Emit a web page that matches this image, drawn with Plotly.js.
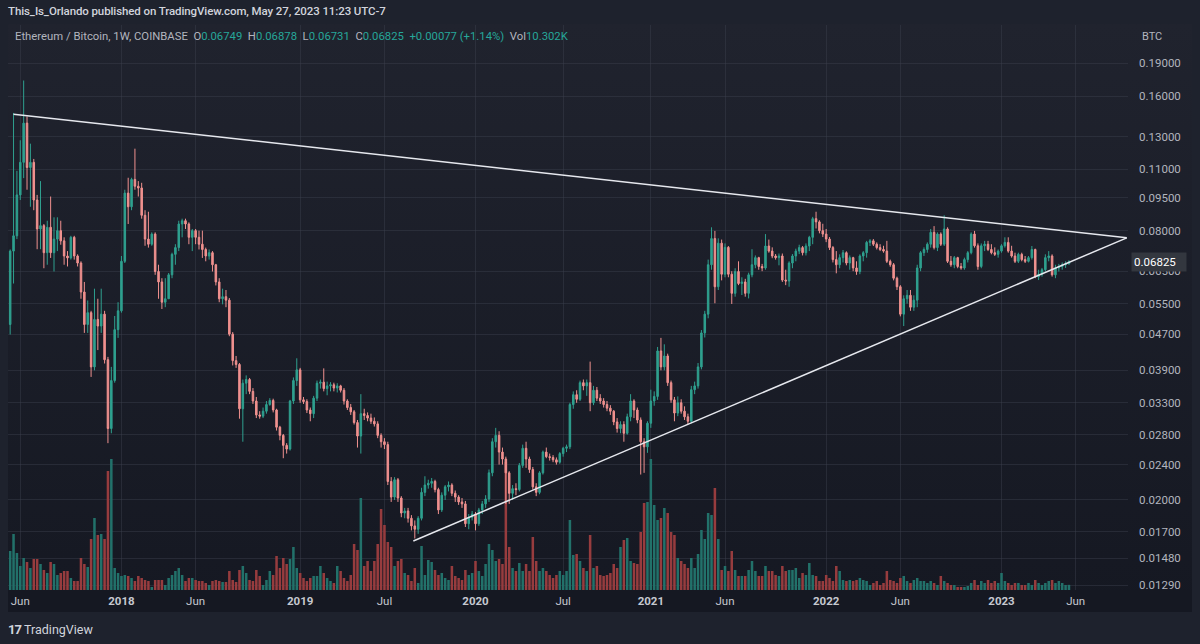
<!DOCTYPE html>
<html><head><meta charset="utf-8">
<script src="https://cdn.plot.ly/plotly-3.0.1.min.js"></script>
<style>
html,body{margin:0;padding:0;background:#1e222d;width:1200px;height:644px;overflow:hidden;font-family:Roboto,"Noto Sans",sans-serif;}
#pane{position:absolute;left:8px;top:24px;width:1184px;height:588px;background:linear-gradient(#20232e,#151822);}
#axisband{position:absolute;left:8px;top:590px;width:1184px;height:22px;background:#151822;}
#chart{position:absolute;left:0;top:0;width:1200px;height:644px;}
.t{position:absolute;white-space:nowrap;}
.v{color:#26a69a;}
</style></head><body>
<div id="pane"></div>
<div id="axisband"></div>
<div id="chart"></div>
<div class="t" style="left:8px;top:4px;font-size:11.5px;color:#d1d4dc;font-weight:500;letter-spacing:-0.1px;">This_Is_Orlando published on TradingView.com, May 27, 2023 11:23 UTC-7</div>
<div class="t" style="left:15px;top:30px;font-size:11.3px;color:#b2b5be;">Ethereum / Bitcoin, 1W, COINBASE&nbsp; O<span class="v">0.06749</span>&nbsp; H<span class="v">0.06878</span>&nbsp; L<span class="v">0.06731</span>&nbsp; C<span class="v">0.06825</span>&nbsp; <span class="v">+0.00077 (+1.14%)</span>&nbsp; Vol<span class="v">10.302K</span></div>
<div class="t" style="left:1142px;top:30px;font-size:11px;color:#b2b5be;">BTC</div>
<div class="t" style="left:8px;top:622px;font-size:12.5px;color:#d1d4dc;"><b style="font-size:13px;letter-spacing:-1px;">17</b>&nbsp;TradingView</div>
<script>
// weekly bars, first week starting 2017-05-15
const firstWeek = '2017-05-15';
const open = [.0494,.0721,.0780,.0963,.1139,.1394,.1109,.1139,.0938,.0808,
.0822,.0715,.0815,.0715,.0767,.0801,.0760,.0703,.0696,.0774,
.0703,.0678,.0584,.0494,.0525,.0397,.0507,.0490,.0521,.0412,
.0289,.0370,.0481,.0530,.0684,.0972,.0906,.1043,.1007,.0998,
.0867,.0767,.0747,.0787,.0649,.0615,.0554,.0564,.0638,.0709,
.0734,.0829,.0843,.0829,.0774,.0801,.0774,.0747,.0727,.0703,
.0715,.0672,.0615,.0564,.0570,.0560,.0470,.0410,.0402,.0320,
.0365,.0372,.0350,.0333,.0310,.0308,.0316,.0327,.0334,.0318,
.0291,.0279,.0265,.0260,.0333,.0370,.0391,.0335,.0332,.0318,
.0312,.0338,.0365,.0367,.0355,.0360,.0362,.0356,.0360,.0352,
.0333,.0322,.0315,.0298,.0278,.0312,.0309,.0305,.0300,.0296,
.0279,.0270,.0266,.0220,.0203,.0222,.0202,.0187,.0189,.0182,
.0175,.0172,.0182,.0208,.0216,.0218,.0220,.0211,.0190,.0205,
.0214,.0216,.0207,.0203,.0198,.0196,.0177,.0183,.0186,.0177,
.0190,.0196,.0201,.0230,.0270,.0279,.0256,.0247,.0230,.0207,
.0212,.0211,.0239,.0261,.0247,.0234,.0214,.0208,.0230,.0256,
.0250,.0249,.0246,.0243,.0254,.0261,.0263,.0327,.0344,.0336,
.0366,.0360,.0366,.0330,.0352,.0338,.0333,.0327,.0321,.0316,
.0299,.0289,.0295,.0282,.0307,.0333,.0318,.0302,.0270,.0263,
.0297,.0333,.0341,.0431,.0397,.0420,.0366,.0335,.0313,.0330,
.0316,.0307,.0300,.0353,.0360,.0397,.0473,.0521,.0672,.0769,
.0600,.0751,.0640,.0735,.0640,.0580,.0649,.0610,.0615,.0580,
.0638,.0672,.0697,.0666,.0661,.0740,.0721,.0703,.0697,.0703,
.0621,.0618,.0678,.0703,.0721,.0734,.0715,.0740,.0774,.0852,
.0838,.0801,.0787,.0767,.0734,.0690,.0672,.0697,.0715,.0678,
.0697,.0661,.0649,.0703,.0715,.0754,.0760,.0747,.0734,.0727,
.0721,.0684,.0672,.0627,.0600,.0521,.0564,.0574,.0540,.0560,
.0661,.0715,.0727,.0747,.0794,.0734,.0787,.0747,.0808,.0684,
.0672,.0697,.0666,.0661,.0690,.0715,.0787,.0741,.0666,.0741,
.0747,.0727,.0715,.0709,.0721,.0741,.0754,.0721,.0703,.0684,
.0709,.0690,.0684,.0697,.0727,.0632,.0640,.0655,.0697,.0703,
.0638,.0661,.0666,.0672,.06749];
const high = [.0727,.1469,.1090,.1276,.1736,.1443,.1254,.1159,.0963,.1034,
.0829,.0843,.0955,.0858,.0858,.0843,.0774,.0721,.0780,.0780,
.0709,.0684,.0615,.0559,.0530,.0594,.0564,.0594,.0530,.0418,
.0397,.0516,.0554,.0703,.0989,.1052,.1052,.1222,.1034,.1025,
.0890,.0883,.0794,.0794,.0672,.0627,.0627,.0644,.0715,.0747,
.0843,.0852,.0852,.0836,.0808,.0808,.0801,.0801,.0734,.0727,
.0721,.0675,.0627,.0594,.0590,.0566,.0475,.0420,.0405,.0372,
.0380,.0375,.0356,.0340,.0316,.0322,.0333,.0338,.0337,.0320,
.0293,.0281,.0268,.0335,.0376,.0415,.0395,.0340,.0336,.0322,
.0342,.0370,.0372,.0394,.0368,.0367,.0366,.0365,.0362,.0356,
.0336,.0328,.0318,.0302,.0345,.0320,.0314,.0312,.0306,.0300,
.0282,.0275,.0270,.0225,.0225,.0224,.0204,.0192,.0192,.0185,
.0180,.0184,.0213,.0226,.0222,.0224,.0222,.0213,.0208,.0216,
.0220,.0218,.0210,.0205,.0202,.0199,.0186,.0189,.0188,.0192,
.0199,.0205,.0234,.0275,.0290,.0285,.0262,.0250,.0232,.0216,
.0218,.0242,.0266,.0270,.0250,.0237,.0218,.0232,.0258,.0262,
.0254,.0252,.0249,.0256,.0263,.0266,.0330,.0350,.0352,.0370,
.0372,.0372,.0408,.0360,.0358,.0345,.0338,.0333,.0326,.0318,
.0305,.0300,.0300,.0312,.0345,.0336,.0322,.0306,.0275,.0300,
.0353,.0350,.0440,.0461,.0446,.0425,.0370,.0340,.0341,.0336,
.0324,.0312,.0360,.0368,.0405,.0480,.0530,.0690,.0815,.0800,
.0770,.0765,.0750,.0740,.0650,.0660,.0684,.0630,.0625,.0645,
.0728,.0705,.0700,.0675,.0787,.0765,.0735,.0710,.0712,.0712,
.0655,.0684,.0710,.0730,.0745,.0740,.0750,.0780,.0860,.0883,
.0845,.0830,.0808,.0775,.0740,.0721,.0709,.0725,.0720,.0705,
.0700,.0684,.0709,.0721,.0760,.0767,.0767,.0754,.0747,.0741,
.0760,.0690,.0678,.0632,.0605,.0574,.0590,.0590,.0574,.0672,
.0721,.0735,.0754,.0808,.0820,.0794,.0794,.0867,.0815,.0703,
.0703,.0700,.0678,.0697,.0721,.0794,.0800,.0750,.0750,.0760,
.0760,.0747,.0735,.0727,.0747,.0774,.0774,.0741,.0715,.0715,
.0715,.0703,.0703,.0740,.0730,.0655,.0661,.0709,.0721,.0709,
.0672,.0675,.0680,.0684,.06878];
const low = [.0469,.0610,.0767,.0938,.1050,.0989,.0906,.0890,.0728,.0728,
.0660,.0672,.0696,.0649,.0721,.0745,.0672,.0666,.0690,.0690,
.0666,.0564,.0473,.0473,.0377,.0390,.0433,.0473,.0404,.0268,
.0282,.0366,.0461,.0525,.0678,.0829,.0890,.0989,.0955,.0852,
.0741,.0734,.0741,.0638,.0564,.0535,.0540,.0564,.0627,.0672,
.0721,.0774,.0808,.0747,.0721,.0747,.0727,.0696,.0684,.0690,
.0649,.0604,.0554,.0548,.0540,.0465,.0400,.0395,.0304,.0270,
.0345,.0345,.0328,.0305,.0304,.0305,.0312,.0325,.0314,.0286,
.0272,.0248,.0254,.0258,.0328,.0360,.0330,.0328,.0313,.0300,
.0305,.0333,.0355,.0350,.0343,.0350,.0350,.0348,.0348,.0327,
.0318,.0310,.0295,.0262,.0254,.0302,.0300,.0296,.0292,.0275,
.0262,.0260,.0216,.0198,.0200,.0198,.0183,.0182,.0178,.0171,
.0164,.0168,.0180,.0204,.0212,.0213,.0208,.0186,.0188,.0200,
.0209,.0204,.0198,.0195,.0192,.0174,.0172,.0180,.0171,.0175,
.0186,.0192,.0198,.0226,.0262,.0240,.0240,.0196,.0196,.0200,
.0205,.0209,.0236,.0236,.0230,.0211,.0204,.0206,.0228,.0248,
.0245,.0243,.0240,.0241,.0250,.0256,.0260,.0320,.0330,.0333,
.0352,.0342,.0316,.0326,.0333,.0328,.0322,.0316,.0310,.0294,
.0283,.0282,.0270,.0280,.0300,.0305,.0297,.0228,.0230,.0255,
.0290,.0325,.0335,.0390,.0390,.0360,.0330,.0300,.0308,.0312,
.0302,.0295,.0297,.0345,.0355,.0392,.0462,.0510,.0655,.0551,
.0590,.0620,.0630,.0630,.0549,.0570,.0605,.0575,.0570,.0565,
.0630,.0660,.0655,.0650,.0655,.0715,.0695,.0690,.0670,.0615,
.0605,.0600,.0660,.0684,.0710,.0705,.0705,.0721,.0747,.0810,
.0790,.0775,.0755,.0725,.0680,.0643,.0660,.0680,.0670,.0655,
.0650,.0638,.0640,.0684,.0697,.0740,.0740,.0727,.0721,.0715,
.0678,.0665,.0620,.0590,.0515,.0490,.0550,.0530,.0530,.0540,
.0650,.0703,.0715,.0734,.0727,.0721,.0740,.0740,.0678,.0665,
.0660,.0660,.0655,.0655,.0680,.0709,.0734,.0655,.0660,.0721,
.0721,.0709,.0703,.0697,.0715,.0734,.0715,.0697,.0678,.0678,
.0684,.0678,.0680,.0690,.0627,.0621,.0632,.0649,.0684,.0632,
.0627,.0649,.0655,.0661,.06731];
const close = [.0721,.0780,.0963,.1139,.1394,.1109,.1139,.0938,.0808,.0822,
.0715,.0815,.0715,.0767,.0801,.0760,.0703,.0696,.0774,.0703,
.0678,.0584,.0494,.0525,.0397,.0507,.0490,.0521,.0412,.0289,
.0370,.0481,.0530,.0684,.0972,.0906,.1043,.1007,.0998,.0867,
.0767,.0747,.0787,.0649,.0615,.0554,.0564,.0638,.0709,.0734,
.0829,.0843,.0829,.0774,.0801,.0774,.0747,.0727,.0703,.0715,
.0672,.0615,.0564,.0570,.0560,.0470,.0410,.0402,.0320,.0365,
.0372,.0350,.0333,.0310,.0308,.0316,.0327,.0334,.0318,.0291,
.0279,.0265,.0260,.0333,.0370,.0391,.0335,.0332,.0318,.0312,
.0338,.0365,.0367,.0355,.0360,.0362,.0356,.0360,.0352,.0333,
.0322,.0315,.0298,.0278,.0312,.0309,.0305,.0300,.0296,.0279,
.0270,.0266,.0220,.0203,.0222,.0202,.0187,.0189,.0182,.0175,
.0172,.0182,.0208,.0216,.0218,.0220,.0211,.0190,.0205,.0214,
.0216,.0207,.0203,.0198,.0196,.0177,.0183,.0186,.0177,.0190,
.0196,.0201,.0230,.0270,.0279,.0256,.0247,.0230,.0207,.0212,
.0211,.0239,.0261,.0247,.0234,.0214,.0208,.0230,.0256,.0250,
.0249,.0246,.0243,.0254,.0261,.0263,.0327,.0344,.0336,.0366,
.0360,.0366,.0330,.0352,.0338,.0333,.0327,.0321,.0316,.0299,
.0289,.0295,.0282,.0307,.0333,.0318,.0302,.0270,.0263,.0297,
.0333,.0341,.0431,.0397,.0420,.0366,.0335,.0313,.0330,.0316,
.0307,.0300,.0353,.0360,.0397,.0473,.0521,.0672,.0769,.0600,
.0751,.0640,.0735,.0640,.0580,.0649,.0610,.0615,.0580,.0638,
.0672,.0697,.0666,.0661,.0740,.0721,.0703,.0697,.0703,.0621,
.0618,.0678,.0703,.0721,.0734,.0715,.0740,.0774,.0852,.0838,
.0801,.0787,.0767,.0734,.0690,.0672,.0697,.0715,.0678,.0697,
.0661,.0649,.0703,.0715,.0754,.0760,.0747,.0734,.0727,.0721,
.0684,.0672,.0627,.0600,.0521,.0564,.0574,.0540,.0560,.0661,
.0715,.0727,.0747,.0794,.0734,.0787,.0747,.0808,.0684,.0672,
.0697,.0666,.0661,.0690,.0715,.0787,.0741,.0666,.0741,.0747,
.0727,.0715,.0709,.0721,.0741,.0754,.0721,.0703,.0684,.0709,
.0690,.0684,.0697,.0727,.0632,.0640,.0655,.0697,.0703,.0638,
.0661,.0666,.0672,.06749,.06825];
// weekly volume, thousands of ETH
const volume = [78,112,74,48,64,56,44,62,62,52,
40,34,56,52,30,34,38,38,24,18,
18,64,52,46,102,144,110,112,102,238,
262,44,34,28,30,28,24,18,28,24,
20,18,6,20,20,20,10,24,30,38,
44,30,18,24,24,20,18,18,14,10,
18,20,18,16,16,38,20,16,40,48,
34,20,18,40,28,10,20,38,30,68,
44,64,52,62,86,44,34,24,18,24,
28,28,48,34,24,18,14,48,38,24,
18,30,92,80,184,48,58,38,58,92,
162,130,96,86,48,58,62,34,30,18,
44,14,88,30,60,56,40,30,34,24,
20,48,28,24,20,40,30,34,58,38,
28,52,92,80,58,62,52,256,86,44,
38,54,38,52,38,106,58,38,44,38,
30,24,30,38,30,38,140,70,72,58,
44,38,110,44,48,30,28,30,34,52,
44,86,100,104,58,54,52,116,174,176,
262,170,140,144,164,154,116,110,64,58,
52,44,64,44,72,120,102,154,150,204,
102,40,48,38,78,40,28,28,28,40,
58,38,28,28,48,38,38,30,28,48,
38,40,40,44,24,34,30,54,30,28,
18,18,30,24,18,48,38,20,18,20,
18,20,24,20,18,10,14,18,10,14,
38,20,18,14,24,28,18,14,20,24,
18,18,14,18,14,10,28,18,14,10,
10,6,6,6,8,14,20,10,18,14,
20,14,18,14,34,18,14,10,14,14,
10,10,14,10,20,14,10,14,18,20,
14,18,14,10,10.302];
const lastPrice = 0.06825;
// trend lines (date, price) end points
const upperLineX = ['2017-05-22', '2023-09-19'];
const upperLineY = [0.1460, 0.0772];
const lowerLineX = ['2019-08-30', '2023-09-19'];
const lowerLineY = [0.01619, 0.0772];
// axis ticks
const priceTicks = [0.0129,0.0148,0.017,0.02,0.024,0.028,0.033,0.039,0.047,0.055,0.065,0.08,0.095,0.11,0.13,0.16,0.19];
const timeTicks = ['2017-06-05','2018-01-01','2018-06-04','2019-01-07','2019-07-01','2020-01-06','2020-07-06','2021-01-04','2021-06-07','2022-01-03','2022-06-06','2023-01-02','2023-06-05'];
const timeLabels = ['Jun','2018','Jun','2019','Jul','2020','Jul','2021','Jun','2022','Jun','2023','Jun'];

const dates = open.map((_, i) => {
  const d = new Date(Date.parse(firstWeek + 'T00:00:00Z') + i * 7 * 86400000);
  return d.toISOString().slice(0, 10);
});
const UP = '#2fa08f', DOWN = '#f0918f';
const volColors = close.map((c, i) => c >= open[i] ? '#22716a' : '#973c3e');

const traces = [
  {type:'bar', x:dates, y:volume, marker:{color:volColors, line:{width:0}}, yaxis:'y', xaxis:'x', hoverinfo:'skip'},
  {type:'candlestick', x:dates, open:open, high:high, low:low, close:close, yaxis:'y2', xaxis:'x',
   increasing:{line:{color:UP, width:1}, fillcolor:UP},
   decreasing:{line:{color:DOWN, width:1}, fillcolor:DOWN},
   whiskerwidth:0, hoverinfo:'skip'},
  {type:'scatter', mode:'lines', x:upperLineX, y:upperLineY, yaxis:'y2', line:{color:'#e6e8ee', width:1.5}, hoverinfo:'skip'},
  {type:'scatter', mode:'lines', x:lowerLineX, y:lowerLineY, yaxis:'y2', line:{color:'#e6e8ee', width:1.5}, hoverinfo:'skip'}
];

const gridC = 'rgba(60,64,78,0.45)';
const layout = {
  width:1200, height:644,
  margin:{l:8, r:72, t:25, b:54, pad:0},
  paper_bgcolor:'rgba(0,0,0,0)', plot_bgcolor:'rgba(0,0,0,0)',
  showlegend:false, bargap:0.25, boxgap:0.35,
  font:{family:'Roboto, "Noto Sans", sans-serif', color:'#b2b5be', size:12},
  xaxis:{type:'date', range:['2017-05-10 12:00','2023-09-21 14:00'], rangeslider:{visible:false},
    tickmode:'array', tickvals:timeTicks,
    ticktext:timeLabels.map(t => /^\d{4}$/.test(t) ? '<b>' + t + '</b>' : t),
    showgrid:true, gridcolor:gridC, gridwidth:1, zeroline:false, showline:false, ticks:'',
    tickfont:{size:11.5, color:'#c5c8d0'}, ticklabelstandoff:2, fixedrange:true},
  yaxis:{range:[0,1130], visible:false, showgrid:false, zeroline:false, fixedrange:true},
  yaxis2:{type:'log', overlaying:'y', side:'right', range:[-1.9004,-0.6362],
    tickmode:'array', tickvals:priceTicks, ticktext:priceTicks.map(v => v.toFixed(5)),
    showgrid:true, gridcolor:gridC, gridwidth:1, zeroline:false, showline:false, ticks:'',
    tickfont:{size:11.5, color:'#b2b5be'}, ticklabelstandoff:10, fixedrange:true},
  annotations:[
    {xref:'paper', x:1, xanchor:'left', xshift:3, yref:'y2', y:Math.log10(lastPrice), yanchor:'middle',
     text:'0.06825', showarrow:false, bgcolor:'#33373f', borderpad:2, width:50, align:'left',
     font:{size:11.5, color:'#ffffff'}}
  ]
};
Plotly.newPlot('chart', traces, layout, {staticPlot:true, displayModeBar:false});
</script>
</body></html>
